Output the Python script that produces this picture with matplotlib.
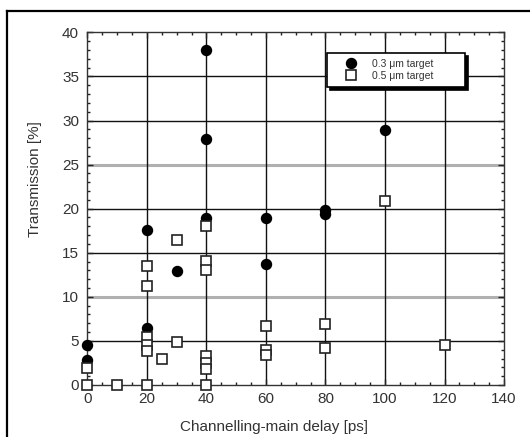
import matplotlib
matplotlib.use("Agg")
import matplotlib.pyplot as plt
from matplotlib.lines import Line2D
from matplotlib.ticker import MultipleLocator

plt.rcParams['font.family'] = ['Liberation Sans', 'DejaVu Sans']

# 0.3 um target (filled circles)
x_03 = [0, 0, 20, 20, 30, 40, 40, 40, 60, 60, 80, 80, 100]
y_03 = [4.5, 2.8, 17.6, 6.5, 12.9, 38.0, 27.9, 18.9, 18.9, 13.7, 19.9, 19.4, 28.9]

# 0.5 um target (open squares)
x_05 = [0, 0, 10, 20, 20, 20, 20, 20, 20, 25, 30, 30,
        40, 40, 40, 40, 40, 40, 40, 60, 60, 60, 80, 80, 100, 120]
y_05 = [1.9, 0, 0, 13.5, 11.2, 5.5, 4.5, 3.8, 0, 2.9, 16.4, 4.9,
        18.0, 14.1, 13.0, 3.3, 2.5, 1.8, 0, 6.7, 4.0, 3.4, 6.9, 4.2, 20.9, 4.5]

x_ticks = [0, 20, 40, 60, 80, 100, 120, 140]
y_ticks = [0, 5, 10, 15, 20, 25, 30, 35, 40]
grey_rows = [10, 25]

labels = ["0.3 \u03bcm target", "0.5 \u03bcm target"]

fig = plt.figure(figsize=(5.30, 4.37), dpi=100)
ax = fig.add_axes([0.165, 0.119, 0.786, 0.807])

ax.set_xlim(0, 140)
ax.set_ylim(0, 40)

# grid
for yv in y_ticks[1:-1]:
    if yv in grey_rows:
        ax.axhline(yv, color='#b0b0b0', lw=2.2, zorder=1)
    else:
        ax.axhline(yv, color='#111111', lw=1.0, zorder=1)
for xv in x_ticks[1:-1]:
    ax.axvline(xv, color='#111111', lw=1.0, zorder=1)

ax.plot(x_03, y_03, linestyle='none', marker='o', ms=7.2, mfc='black',
        mec='black', clip_on=False, zorder=3, label=labels[0])
ax.plot(x_05, y_05, linestyle='none', marker='s', ms=7.0, mfc='white',
        mec='#222222', mew=1.2, clip_on=False, zorder=4, label=labels[1])

ax.set_xticks(x_ticks)
ax.set_yticks(y_ticks)
ax.xaxis.set_minor_locator(MultipleLocator(5))
ax.yaxis.set_minor_locator(MultipleLocator(1))
ax.tick_params(which='both', direction='in', top=True, right=True,
               colors='#222222', labelcolor='#333333')
ax.tick_params(which='major', length=4, width=1)
ax.tick_params(which='minor', length=2.5, width=1)
ax.tick_params(axis='x', labelsize=11, pad=5)
ax.tick_params(axis='y', labelsize=11, pad=6)
for s in ax.spines.values():
    s.set_color('#333333')
    s.set_linewidth(1.0)

ax.set_xlabel("Channelling-main delay [ps]", fontsize=11, color='#333333')
ax.set_ylabel("Transmission [%]", fontsize=11, color='#333333')
ax.xaxis.set_label_coords(0.448, -0.119)
ax.xaxis.label.set_verticalalignment('center')
ax.yaxis.set_label_coords(-0.126, 0.584)
ax.yaxis.label.set_verticalalignment('center')

leg = ax.legend(loc='upper left', bbox_to_anchor=(0.575, 0.837, 0.331, 0.105),
                mode='expand', fontsize=7.5, frameon=True, fancybox=False,
                shadow={'color': 'black', 'alpha': 1}, edgecolor='black',
                framealpha=1, borderpad=0.6, labelspacing=0.15,
                handlelength=3.4, handletextpad=0.3, borderaxespad=0)
leg.get_frame().set_linewidth(1.2)
for t in leg.get_texts():
    t.set_color('#333333')
leg.set_zorder(10)

# outer frame (left and top edges)
fig.add_artist(Line2D([7 / 530, 7 / 530], [0, 1 - 10.5 / 437],
                      transform=fig.transFigure, color='black', lw=1.6))
fig.add_artist(Line2D([7 / 530, 1], [1 - 10.5 / 437, 1 - 10.5 / 437],
                      transform=fig.transFigure, color='black', lw=1.6))

fig.savefig("out.png", dpi=100)
